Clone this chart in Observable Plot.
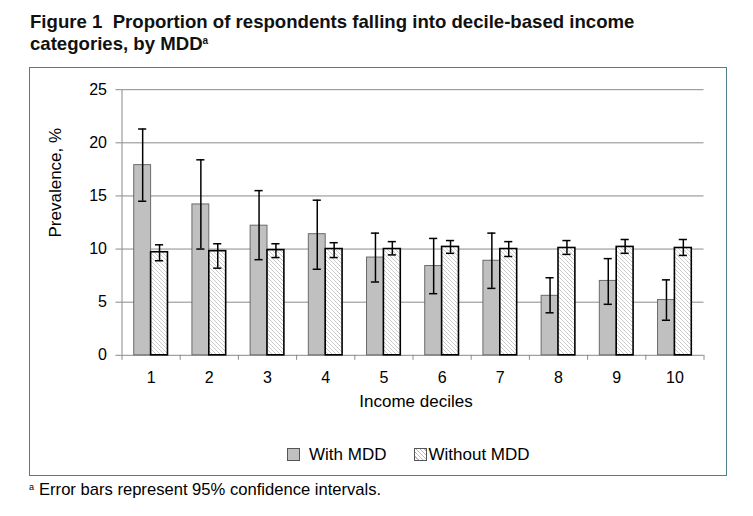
<!DOCTYPE html>
<html>
<head>
<meta charset="utf-8">
<script src="https://cdn.jsdelivr.net/npm/d3@7"></script>
<script src="https://cdn.jsdelivr.net/npm/@observablehq/plot@0.6"></script>
<style>
  html, body { margin: 0; padding: 0; background: #fff; }
  body { width: 753px; height: 516px; position: relative; font-family: "Liberation Sans", Arial, sans-serif; color: #000; overflow: hidden; }
  #title { position: absolute; left: 30px; top: 11px; font-weight: bold; font-size: 18.6px; line-height: 22px; color: #111; white-space: nowrap; }
  #title sup { font-size: 10px; vertical-align: 6px; line-height: 0; }
  #box { position: absolute; left: 29px; top: 67px; width: 698px; height: 409px; box-sizing: border-box; border: 1.5px solid #4f7f8e; }
  #chart { position: absolute; left: 0; top: 0; }
  .leg { position: absolute; font-size: 17px; line-height: 20px; white-space: nowrap; }
  .sw { position: absolute; width: 13px; height: 13px; box-sizing: border-box; }
  #foot { position: absolute; left: 29px; top: 480px; font-size: 16.6px; line-height: 20px; white-space: nowrap; }
  #foot sup { font-size: 9px; vertical-align: 5px; line-height: 0; margin-right: 5px; }
</style>
</head>
<body>
<div id="title">Figure 1&nbsp; Proportion of respondents falling into decile-based income<br>categories, by MDD<sup>a</sup></div>
<div id="box"><div id="chart"></div></div>
<div id="legend"></div>
<div id="foot"><sup>a</sup>Error bars represent 95% confidence intervals.</div>
<script>
// ---- data ----
const deciles   = [1, 2, 3, 4, 5, 6, 7, 8, 9, 10];
const mdd       = [17.9, 14.2, 12.2, 11.4, 9.2, 8.4, 8.9, 5.6, 7.0, 5.2];
const mddLow    = [14.5, 10.0, 9.0, 8.1, 6.9, 5.8, 6.3, 4.0, 4.8, 3.3];
const mddHigh   = [21.3, 18.4, 15.5, 14.6, 11.5, 11.0, 11.5, 7.3, 9.1, 7.1];
const noMdd     = [9.7, 9.8, 9.9, 10.0, 10.0, 10.2, 10.0, 10.1, 10.2, 10.1];
const noMddLow  = [8.9, 8.2, 9.2, 9.2, 9.45, 9.6, 9.3, 9.5, 9.6, 9.4];
const noMddHigh = [10.4, 10.5, 10.5, 10.6, 10.7, 10.8, 10.7, 10.8, 10.9, 10.9];
const seriesNames = ["With MDD", "Without MDD"];
const yTicks = [0, 5, 10, 15, 20, 25];
const yLabel = "Prevalence, %";
const xLabel = "Income deciles";

// ---- table built from the arrays ----
const table = deciles.map((d, i) => ({
  decile: d,
  mdd: mdd[i], mddLow: mddLow[i], mddHigh: mddHigh[i],
  noMdd: noMdd[i], noMddLow: noMddLow[i], noMddHigh: noMddHigh[i]
}));

const xDomain = [deciles[0] - 0.5, deciles[deciles.length - 1] + 0.5];
const yDomain = [yTicks[0], yTicks[yTicks.length - 1]];
const boundaries = deciles.map(d => d - 0.5).concat([xDomain[1]]);

const bw = 0.29;   // bar width in category units
const cap = 0.07;  // half cap width
const grid = "#8a8a8a";
const hatch = "url(#hatch)";

const W = 695, H = 350;
const plot = Plot.plot({
  width: W,
  height: H,
  marginLeft: 91.5,
  marginRight: 21.5,
  marginTop: 21.2,
  marginBottom: 63.2,
  style: { fontFamily: "'Liberation Sans', Arial, sans-serif", fontSize: "16px", background: "transparent", color: "#000", overflow: "visible" },
  x: { domain: xDomain, axis: null },
  y: { domain: yDomain, axis: null },
  marks: [
    Plot.gridY(yTicks.filter(t => t > yDomain[0]), { stroke: grid, strokeOpacity: 1, strokeWidth: 1 }),
    Plot.axisY(yTicks, { tickSize: 6, tickPadding: 9, stroke: grid, fill: "#000", label: null, fontSize: 16 }),
    Plot.ruleX([xDomain[0]], { y1: yDomain[0], y2: yDomain[1], stroke: grid, strokeWidth: 1 }),
    Plot.ruleY([yDomain[0]], { stroke: grid, strokeWidth: 1 }),
    Plot.axisX(boundaries, { tickSize: 5, tickFormat: () => "", stroke: grid, label: null }),
    Plot.axisX(deciles, { tickSize: 0, tickPadding: 16, label: null, fill: "#000", fontSize: 16 }),
    // bars
    Plot.rect(table, { x1: d => d.decile - bw, x2: "decile", y1: 0, y2: "mdd", fill: "#c0c0c0", stroke: "#6a6a6a", strokeWidth: 1 }),
    Plot.rect(table, { x1: "decile", x2: d => d.decile + bw, y1: 0, y2: "noMdd", fill: hatch, stroke: "#000", strokeWidth: 1.6 }),
    // error bars
    Plot.ruleX(table, { x: d => d.decile - bw / 2, y1: "mddLow", y2: "mddHigh", stroke: "#000", strokeWidth: 1.5 }),
    Plot.ruleY(table, { x1: d => d.decile - bw / 2 - cap, x2: d => d.decile - bw / 2 + cap, y: "mddHigh", stroke: "#000", strokeWidth: 1.5 }),
    Plot.ruleY(table, { x1: d => d.decile - bw / 2 - cap, x2: d => d.decile - bw / 2 + cap, y: "mddLow", stroke: "#000", strokeWidth: 1.5 }),
    Plot.ruleX(table, { x: d => d.decile + bw / 2, y1: "noMddLow", y2: "noMddHigh", stroke: "#000", strokeWidth: 1.5 }),
    Plot.ruleY(table, { x1: d => d.decile + bw / 2 - cap, x2: d => d.decile + bw / 2 + cap, y: "noMddHigh", stroke: "#000", strokeWidth: 1.5 }),
    Plot.ruleY(table, { x1: d => d.decile + bw / 2 - cap, x2: d => d.decile + bw / 2 + cap, y: "noMddLow", stroke: "#000", strokeWidth: 1.5 }),
    // axis titles
    Plot.text([yLabel], { frameAnchor: "left", rotate: -90, dx: -66, dy: 15, fontSize: 17, fill: "#000" }),
    Plot.text([xLabel], { frameAnchor: "bottom", dx: 3, dy: 52, fontSize: 17, fill: "#000" })
  ]
});

// hatch pattern (wide downward diagonal)
const svgNS = "http://www.w3.org/2000/svg";
const defs = document.createElementNS(svgNS, "defs");
defs.innerHTML = '<pattern id="hatch" patternUnits="userSpaceOnUse" width="4" height="4">' +
  '<rect width="4" height="4" fill="#fff"/>' +
  '<path d="M-1,-1 L5,5 M3,-1 L5,1 M-1,3 L1,5" stroke="#bdbdbd" stroke-width="0.8"/></pattern>';
plot.insertBefore(defs, plot.firstChild);
document.getElementById("chart").appendChild(plot);

// legend below the svg
const legend = document.getElementById("legend");
const items = [
  { name: seriesNames[0], sw: 287, tx: 309, bg: "#c0c0c0", border: "#555" },
  { name: seriesNames[1], sw: 413.5, tx: 428.5, bg: "repeating-linear-gradient(45deg, #fff 0 2px, #bdbdbd 2px 3px)", border: "#555" }
];
items.forEach(it => {
  const s = document.createElement("div");
  s.className = "sw";
  s.style.left = it.sw + "px";
  s.style.top = "448px";
  s.style.background = it.bg;
  s.style.border = "1px solid " + it.border;
  legend.appendChild(s);
  const t = document.createElement("div");
  t.className = "leg";
  t.style.left = it.tx + "px";
  t.style.top = "445px";
  t.textContent = it.name;
  legend.appendChild(t);
});
</script>
</body>
</html>
